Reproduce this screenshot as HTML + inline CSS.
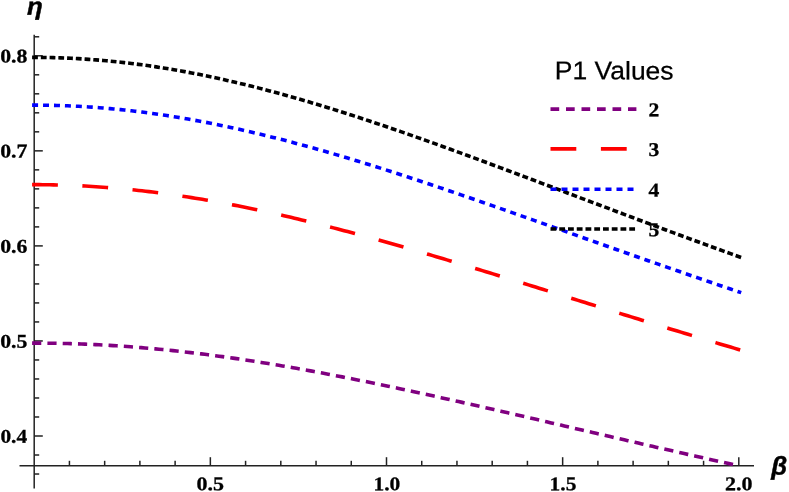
<!DOCTYPE html>
<html><head><meta charset="utf-8"><title>Plot</title>
<style>html,body{margin:0;padding:0;background:#fff;}body{width:789px;height:492px;overflow:hidden;}svg{display:block;will-change:transform;}.t{font-family:"Liberation Serif",serif;font-weight:bold;font-size:19.5px;fill:#000;stroke:#000;stroke-width:0.3px;}.l{font-family:"Liberation Sans",sans-serif;font-size:25.5px;fill:#000;stroke:#000;stroke-width:0.25px;}.g{font-family:"Liberation Sans",sans-serif;font-weight:bold;font-style:italic;font-size:25.6px;fill:#000;stroke:#000;stroke-width:0.45px;}</style></head><body>
<svg width="789" height="492" viewBox="0 0 789 492">
<rect width="789" height="492" fill="#fff"/>
<defs><clipPath id="c"><rect x="0" y="0" width="789" height="466.50"/></clipPath></defs>
<g stroke="#222" stroke-width="1.5" fill="none">
<line x1="19.50" y1="465.80" x2="754.00" y2="465.80"/>
<line x1="34.20" y1="34.70" x2="34.20" y2="488.40"/>
<line x1="69.43" y1="465.80" x2="69.43" y2="460.80"/>
<line x1="104.66" y1="465.80" x2="104.66" y2="460.80"/>
<line x1="139.89" y1="465.80" x2="139.89" y2="460.80"/>
<line x1="175.12" y1="465.80" x2="175.12" y2="460.80"/>
<line x1="210.35" y1="465.80" x2="210.35" y2="457.20"/>
<line x1="245.58" y1="465.80" x2="245.58" y2="460.80"/>
<line x1="280.81" y1="465.80" x2="280.81" y2="460.80"/>
<line x1="316.04" y1="465.80" x2="316.04" y2="460.80"/>
<line x1="351.27" y1="465.80" x2="351.27" y2="460.80"/>
<line x1="386.50" y1="465.80" x2="386.50" y2="457.20"/>
<line x1="421.73" y1="465.80" x2="421.73" y2="460.80"/>
<line x1="456.96" y1="465.80" x2="456.96" y2="460.80"/>
<line x1="492.19" y1="465.80" x2="492.19" y2="460.80"/>
<line x1="527.42" y1="465.80" x2="527.42" y2="460.80"/>
<line x1="562.65" y1="465.80" x2="562.65" y2="457.20"/>
<line x1="597.88" y1="465.80" x2="597.88" y2="460.80"/>
<line x1="633.11" y1="465.80" x2="633.11" y2="460.80"/>
<line x1="668.34" y1="465.80" x2="668.34" y2="460.80"/>
<line x1="703.57" y1="465.80" x2="703.57" y2="460.80"/>
<line x1="738.80" y1="465.80" x2="738.80" y2="457.20"/>
<line x1="34.20" y1="474.02" x2="39.20" y2="474.02"/>
<line x1="34.20" y1="455.01" x2="39.20" y2="455.01"/>
<line x1="34.20" y1="436.00" x2="42.80" y2="436.00"/>
<line x1="34.20" y1="416.99" x2="39.20" y2="416.99"/>
<line x1="34.20" y1="397.98" x2="39.20" y2="397.98"/>
<line x1="34.20" y1="378.97" x2="39.20" y2="378.97"/>
<line x1="34.20" y1="359.96" x2="39.20" y2="359.96"/>
<line x1="34.20" y1="340.95" x2="42.80" y2="340.95"/>
<line x1="34.20" y1="321.94" x2="39.20" y2="321.94"/>
<line x1="34.20" y1="302.93" x2="39.20" y2="302.93"/>
<line x1="34.20" y1="283.92" x2="39.20" y2="283.92"/>
<line x1="34.20" y1="264.91" x2="39.20" y2="264.91"/>
<line x1="34.20" y1="245.90" x2="42.80" y2="245.90"/>
<line x1="34.20" y1="226.89" x2="39.20" y2="226.89"/>
<line x1="34.20" y1="207.88" x2="39.20" y2="207.88"/>
<line x1="34.20" y1="188.87" x2="39.20" y2="188.87"/>
<line x1="34.20" y1="169.86" x2="39.20" y2="169.86"/>
<line x1="34.20" y1="150.85" x2="42.80" y2="150.85"/>
<line x1="34.20" y1="131.84" x2="39.20" y2="131.84"/>
<line x1="34.20" y1="112.83" x2="39.20" y2="112.83"/>
<line x1="34.20" y1="93.82" x2="39.20" y2="93.82"/>
<line x1="34.20" y1="74.81" x2="39.20" y2="74.81"/>
<line x1="34.20" y1="55.80" x2="42.80" y2="55.80"/>
<line x1="34.20" y1="36.79" x2="39.20" y2="36.79"/>
</g>
<text class="t" x="210.35" y="490.20" transform="rotate(0.03 210.35 490.20)" text-anchor="middle" textLength="27.5" lengthAdjust="spacingAndGlyphs">0.5</text>
<text class="t" x="386.85" y="490.20" transform="rotate(0.03 386.85 490.20)" text-anchor="middle" textLength="26.8" lengthAdjust="spacingAndGlyphs">1.0</text>
<text class="t" x="563.00" y="490.20" transform="rotate(0.03 563.00 490.20)" text-anchor="middle" textLength="26.8" lengthAdjust="spacingAndGlyphs">1.5</text>
<text class="t" x="738.80" y="490.20" transform="rotate(0.03 738.80 490.20)" text-anchor="middle" textLength="27.5" lengthAdjust="spacingAndGlyphs">2.0</text>
<text class="t" x="27.10" y="442.75" transform="rotate(0.03 27.10 442.75)" text-anchor="end" textLength="26.7" lengthAdjust="spacingAndGlyphs">0.4</text>
<text class="t" x="27.40" y="347.70" transform="rotate(0.03 27.40 347.70)" text-anchor="end" textLength="27.2" lengthAdjust="spacingAndGlyphs">0.5</text>
<text class="t" x="27.40" y="252.65" transform="rotate(0.03 27.40 252.65)" text-anchor="end" textLength="27.2" lengthAdjust="spacingAndGlyphs">0.6</text>
<text class="t" x="27.40" y="157.60" transform="rotate(0.03 27.40 157.60)" text-anchor="end" textLength="27.2" lengthAdjust="spacingAndGlyphs">0.7</text>
<text class="t" x="27.40" y="62.55" transform="rotate(0.03 27.40 62.55)" text-anchor="end" textLength="27.2" lengthAdjust="spacingAndGlyphs">0.8</text>
<text class="g" x="27.10" y="14.70" transform="rotate(0.03 27.10 14.70)" style="font-size:24.5px" textLength="15.75" lengthAdjust="spacingAndGlyphs">η</text>
<text class="g" x="771.30" y="474.60" transform="rotate(0.03 771.30 474.60)">β</text>
<g fill="none" stroke-linecap="butt" stroke-linejoin="round" clip-path="url(#c)">
<path d="M32.09 343.12 L35.61 343.12 L39.14 343.13 L42.66 343.15 L46.19 343.17 L49.71 343.21 L53.23 343.26 L56.76 343.32 L60.28 343.39 L63.81 343.47 L67.33 343.56 L70.86 343.65 L74.38 343.76 L77.91 343.88 L81.43 344.01 L84.96 344.14 L88.48 344.29 L92.01 344.45 L95.53 344.61 L99.06 344.79 L102.58 344.97 L106.11 345.17 L109.63 345.37 L113.16 345.59 L116.68 345.81 L120.21 346.05 L123.73 346.29 L127.25 346.54 L130.78 346.80 L134.30 347.07 L137.83 347.35 L141.35 347.64 L144.88 347.94 L148.40 348.24 L151.93 348.56 L155.45 348.88 L158.98 349.22 L162.50 349.56 L166.03 349.91 L169.55 350.27 L173.08 350.64 L176.60 351.01 L180.13 351.40 L183.65 351.79 L187.18 352.19 L190.70 352.60 L194.23 353.02 L197.75 353.45 L201.27 353.88 L204.80 354.32 L208.32 354.77 L211.85 355.23 L215.37 355.70 L218.90 356.17 L222.42 356.65 L225.95 357.14 L229.47 357.63 L233.00 358.14 L236.52 358.65 L240.05 359.17 L243.57 359.69 L247.10 360.22 L250.62 360.76 L254.15 361.30 L257.67 361.86 L261.20 362.42 L264.72 362.98 L268.25 363.55 L271.77 364.13 L275.29 364.71 L278.82 365.30 L282.34 365.90 L285.87 366.50 L289.39 367.11 L292.92 367.73 L296.44 368.35 L299.97 368.97 L303.49 369.60 L307.02 370.24 L310.54 370.88 L314.07 371.53 L317.59 372.18 L321.12 372.84 L324.64 373.50 L328.17 374.17 L331.69 374.84 L335.22 375.52 L338.74 376.20 L342.27 376.89 L345.79 377.58 L349.31 378.28 L352.84 378.98 L356.36 379.68 L359.89 380.39 L363.41 381.10 L366.94 381.82 L370.46 382.54 L373.99 383.27 L377.51 383.99 L381.04 384.73 L384.56 385.46 L388.09 386.20 L391.61 386.94 L395.14 387.69 L398.66 388.44 L402.19 389.19 L405.71 389.94 L409.24 390.70 L412.76 391.46 L416.29 392.23 L419.81 392.99 L423.33 393.76 L426.86 394.54 L430.38 395.31 L433.91 396.09 L437.43 396.87 L440.96 397.65 L444.48 398.43 L448.01 399.22 L451.53 400.00 L455.06 400.79 L458.58 401.59 L462.11 402.38 L465.63 403.18 L469.16 403.97 L472.68 404.77 L476.21 405.57 L479.73 406.37 L483.26 407.18 L486.78 407.98 L490.31 408.79 L493.83 409.60 L497.35 410.40 L500.88 411.21 L504.40 412.02 L507.93 412.84 L511.45 413.65 L514.98 414.46 L518.50 415.28 L522.03 416.09 L525.55 416.91 L529.08 417.73 L532.60 418.54 L536.13 419.36 L539.65 420.18 L543.18 421.00 L546.70 421.82 L550.23 422.64 L553.75 423.46 L557.28 424.27 L560.80 425.10 L564.33 425.92 L567.85 426.74 L571.37 427.56 L574.90 428.38 L578.42 429.20 L581.95 430.02 L585.47 430.84 L589.00 431.66 L592.52 432.48 L596.05 433.30 L599.57 434.11 L603.10 434.93 L606.62 435.75 L610.15 436.57 L613.67 437.39 L617.20 438.20 L620.72 439.02 L624.25 439.83 L627.77 440.65 L631.30 441.46 L634.82 442.28 L638.35 443.09 L641.87 443.90 L645.39 444.71 L648.92 445.52 L652.44 446.33 L655.97 447.14 L659.49 447.95 L663.02 448.76 L666.54 449.56 L670.07 450.37 L673.59 451.17 L677.12 451.97 L680.64 452.78 L684.17 453.58 L687.69 454.37 L691.22 455.17 L694.74 455.97 L698.27 456.77 L701.79 457.56 L705.32 458.35 L708.84 459.14 L712.37 459.93 L715.89 460.72 L719.41 461.51 L722.94 462.30 L726.46 463.08 L729.99 463.87 L733.51 464.65 L737.04 465.43" stroke="#800080" stroke-width="3.6" stroke-dasharray="9.2 6.1" stroke-dashoffset="0"/>
<path d="M32.09 184.66 L35.63 184.66 L39.18 184.67 L42.72 184.70 L46.27 184.74 L49.81 184.79 L53.36 184.86 L56.91 184.94 L60.45 185.03 L64.00 185.14 L67.54 185.26 L71.09 185.39 L74.63 185.54 L78.18 185.70 L81.72 185.87 L85.27 186.06 L88.81 186.26 L92.36 186.47 L95.91 186.70 L99.45 186.94 L103.00 187.20 L106.54 187.46 L110.09 187.74 L113.63 188.03 L117.18 188.34 L120.72 188.66 L124.27 188.99 L127.82 189.33 L131.36 189.69 L134.91 190.05 L138.45 190.44 L142.00 190.83 L145.54 191.24 L149.09 191.65 L152.63 192.08 L156.18 192.53 L159.73 192.98 L163.27 193.45 L166.82 193.93 L170.36 194.42 L173.91 194.92 L177.45 195.43 L181.00 195.96 L184.54 196.49 L188.09 197.04 L191.64 197.60 L195.18 198.17 L198.73 198.75 L202.27 199.34 L205.82 199.94 L209.36 200.56 L212.91 201.18 L216.45 201.82 L220.00 202.46 L223.55 203.11 L227.09 203.78 L230.64 204.45 L234.18 205.14 L237.73 205.83 L241.27 206.54 L244.82 207.25 L248.36 207.98 L251.91 208.71 L255.46 209.45 L259.00 210.20 L262.55 210.96 L266.09 211.73 L269.64 212.51 L273.18 213.30 L276.73 214.09 L280.27 214.90 L283.82 215.71 L287.37 216.53 L290.91 217.35 L294.46 218.19 L298.00 219.03 L301.55 219.88 L305.09 220.74 L308.64 221.61 L312.18 222.48 L315.73 223.36 L319.28 224.25 L322.82 225.14 L326.37 226.04 L329.91 226.95 L333.46 227.87 L337.00 228.79 L340.55 229.71 L344.09 230.65 L347.64 231.59 L351.19 232.53 L354.73 233.48 L358.28 234.44 L361.82 235.40 L365.37 236.37 L368.91 237.34 L372.46 238.32 L376.00 239.30 L379.55 240.29 L383.10 241.28 L386.64 242.28 L390.19 243.28 L393.73 244.29 L397.28 245.30 L400.82 246.32 L404.37 247.34 L407.91 248.36 L411.46 249.39 L415.01 250.42 L418.55 251.46 L422.10 252.50 L425.64 253.54 L429.19 254.59 L432.73 255.63 L436.28 256.69 L439.82 257.74 L443.37 258.80 L446.92 259.86 L450.46 260.93 L454.01 261.99 L457.55 263.06 L461.10 264.14 L464.64 265.21 L468.19 266.29 L471.73 267.37 L475.28 268.45 L478.83 269.53 L482.37 270.62 L485.92 271.70 L489.46 272.79 L493.01 273.88 L496.55 274.98 L500.10 276.07 L503.64 277.16 L507.19 278.26 L510.74 279.36 L514.28 280.46 L517.83 281.56 L521.37 282.66 L524.92 283.76 L528.46 284.86 L532.01 285.97 L535.55 287.07 L539.10 288.17 L542.64 289.28 L546.19 290.39 L549.74 291.49 L553.28 292.60 L556.83 293.71 L560.37 294.81 L563.92 295.92 L567.46 297.03 L571.01 298.13 L574.55 299.24 L578.10 300.35 L581.65 301.46 L585.19 302.56 L588.74 303.67 L592.28 304.77 L595.83 305.88 L599.37 306.98 L602.92 308.09 L606.46 309.19 L610.01 310.30 L613.56 311.40 L617.10 312.50 L620.65 313.60 L624.19 314.70 L627.74 315.80 L631.28 316.90 L634.83 318.00 L638.37 319.09 L641.92 320.19 L645.47 321.28 L649.01 322.38 L652.56 323.47 L656.10 324.56 L659.65 325.65 L663.19 326.73 L666.74 327.82 L670.28 328.91 L673.83 329.99 L677.38 331.07 L680.92 332.15 L684.47 333.23 L688.01 334.31 L691.56 335.38 L695.10 336.46 L698.65 337.53 L702.19 338.60 L705.74 339.67 L709.29 340.73 L712.83 341.80 L716.38 342.86 L719.92 343.92 L723.47 344.98 L727.01 346.04 L730.56 347.09 L734.10 348.15 L737.65 349.20 L741.20 350.25" stroke="#ff0000" stroke-width="3.6" stroke-dasharray="25.8 24.5" stroke-dashoffset="0"/>
<path d="M32.09 105.13 L35.63 105.13 L39.18 105.15 L42.72 105.18 L46.27 105.22 L49.81 105.28 L53.36 105.35 L56.91 105.44 L60.45 105.55 L64.00 105.67 L67.54 105.80 L71.09 105.95 L74.63 106.12 L78.18 106.30 L81.72 106.50 L85.27 106.71 L88.81 106.93 L92.36 107.17 L95.91 107.43 L99.45 107.70 L103.00 107.98 L106.54 108.28 L110.09 108.60 L113.63 108.93 L117.18 109.27 L120.72 109.63 L124.27 110.00 L127.82 110.39 L131.36 110.79 L134.91 111.20 L138.45 111.63 L142.00 112.08 L145.54 112.53 L149.09 113.00 L152.63 113.49 L156.18 113.99 L159.73 114.50 L163.27 115.02 L166.82 115.56 L170.36 116.11 L173.91 116.68 L177.45 117.26 L181.00 117.85 L184.54 118.45 L188.09 119.07 L191.64 119.70 L195.18 120.34 L198.73 120.99 L202.27 121.66 L205.82 122.34 L209.36 123.03 L212.91 123.73 L216.45 124.45 L220.00 125.17 L223.55 125.91 L227.09 126.66 L230.64 127.42 L234.18 128.20 L237.73 128.98 L241.27 129.77 L244.82 130.58 L248.36 131.39 L251.91 132.22 L255.46 133.06 L259.00 133.90 L262.55 134.76 L266.09 135.63 L269.64 136.51 L273.18 137.39 L276.73 138.29 L280.27 139.20 L283.82 140.11 L287.37 141.04 L290.91 141.97 L294.46 142.91 L298.00 143.87 L301.55 144.83 L305.09 145.79 L308.64 146.77 L312.18 147.76 L315.73 148.75 L319.28 149.75 L322.82 150.76 L326.37 151.78 L329.91 152.81 L333.46 153.84 L337.00 154.88 L340.55 155.92 L344.09 156.98 L347.64 158.04 L351.19 159.11 L354.73 160.18 L358.28 161.26 L361.82 162.35 L365.37 163.44 L368.91 164.54 L372.46 165.65 L376.00 166.76 L379.55 167.88 L383.10 169.00 L386.64 170.13 L390.19 171.26 L393.73 172.40 L397.28 173.54 L400.82 174.69 L404.37 175.85 L407.91 177.00 L411.46 178.17 L415.01 179.33 L418.55 180.51 L422.10 181.68 L425.64 182.86 L429.19 184.04 L432.73 185.23 L436.28 186.42 L439.82 187.62 L443.37 188.82 L446.92 190.02 L450.46 191.22 L454.01 192.43 L457.55 193.64 L461.10 194.86 L464.64 196.07 L468.19 197.29 L471.73 198.52 L475.28 199.74 L478.83 200.97 L482.37 202.20 L485.92 203.43 L489.46 204.66 L493.01 205.90 L496.55 207.14 L500.10 208.38 L503.64 209.62 L507.19 210.86 L510.74 212.10 L514.28 213.35 L517.83 214.60 L521.37 215.84 L524.92 217.09 L528.46 218.34 L532.01 219.60 L535.55 220.85 L539.10 222.10 L542.64 223.35 L546.19 224.61 L549.74 225.86 L553.28 227.12 L556.83 228.38 L560.37 229.63 L563.92 230.89 L567.46 232.14 L571.01 233.40 L574.55 234.66 L578.10 235.91 L581.65 237.17 L585.19 238.43 L588.74 239.68 L592.28 240.94 L595.83 242.19 L599.37 243.45 L602.92 244.70 L606.46 245.96 L610.01 247.21 L613.56 248.46 L617.10 249.71 L620.65 250.96 L624.19 252.21 L627.74 253.46 L631.28 254.71 L634.83 255.96 L638.37 257.20 L641.92 258.45 L645.47 259.69 L649.01 260.93 L652.56 262.17 L656.10 263.41 L659.65 264.65 L663.19 265.89 L666.74 267.12 L670.28 268.35 L673.83 269.59 L677.38 270.82 L680.92 272.04 L684.47 273.27 L688.01 274.49 L691.56 275.72 L695.10 276.94 L698.65 278.16 L702.19 279.37 L705.74 280.59 L709.29 281.80 L712.83 283.01 L716.38 284.22 L719.92 285.43 L723.47 286.64 L727.01 287.84 L730.56 289.04 L734.10 290.24 L737.65 291.43 L741.20 292.63" stroke="#0000ff" stroke-width="3.6" stroke-dasharray="6.0 4.945" stroke-dashoffset="0"/>
<path d="M32.09 57.42 L35.63 57.42 L39.18 57.43 L42.72 57.46 L46.27 57.51 L49.81 57.57 L53.36 57.65 L56.91 57.75 L60.45 57.86 L64.00 57.99 L67.54 58.13 L71.09 58.30 L74.63 58.47 L78.18 58.66 L81.72 58.87 L85.27 59.10 L88.81 59.34 L92.36 59.60 L95.91 59.87 L99.45 60.16 L103.00 60.46 L106.54 60.78 L110.09 61.12 L113.63 61.47 L117.18 61.83 L120.72 62.22 L124.27 62.61 L127.82 63.03 L131.36 63.45 L134.91 63.90 L138.45 64.35 L142.00 64.83 L145.54 65.31 L149.09 65.82 L152.63 66.33 L156.18 66.86 L159.73 67.41 L163.27 67.97 L166.82 68.55 L170.36 69.13 L173.91 69.74 L177.45 70.35 L181.00 70.99 L184.54 71.63 L188.09 72.29 L191.64 72.96 L195.18 73.64 L198.73 74.34 L202.27 75.05 L205.82 75.78 L209.36 76.52 L212.91 77.27 L216.45 78.03 L220.00 78.80 L223.55 79.59 L227.09 80.39 L230.64 81.20 L234.18 82.03 L237.73 82.86 L241.27 83.71 L244.82 84.57 L248.36 85.44 L251.91 86.32 L255.46 87.22 L259.00 88.12 L262.55 89.03 L266.09 89.96 L269.64 90.90 L273.18 91.84 L276.73 92.80 L280.27 93.77 L283.82 94.74 L287.37 95.73 L290.91 96.73 L294.46 97.73 L298.00 98.75 L301.55 99.77 L305.09 100.81 L308.64 101.85 L312.18 102.90 L315.73 103.96 L319.28 105.03 L322.82 106.11 L326.37 107.20 L329.91 108.29 L333.46 109.39 L337.00 110.50 L340.55 111.62 L344.09 112.74 L347.64 113.87 L351.19 115.01 L354.73 116.16 L358.28 117.31 L361.82 118.47 L365.37 119.64 L368.91 120.81 L372.46 121.99 L376.00 123.18 L379.55 124.37 L383.10 125.57 L386.64 126.77 L390.19 127.98 L393.73 129.20 L397.28 130.42 L400.82 131.64 L404.37 132.88 L407.91 134.11 L411.46 135.35 L415.01 136.60 L418.55 137.85 L422.10 139.10 L425.64 140.36 L429.19 141.62 L432.73 142.89 L436.28 144.16 L439.82 145.44 L443.37 146.72 L446.92 148.00 L450.46 149.29 L454.01 150.57 L457.55 151.87 L461.10 153.16 L464.64 154.46 L468.19 155.76 L471.73 157.07 L475.28 158.37 L478.83 159.68 L482.37 161.00 L485.92 162.31 L489.46 163.63 L493.01 164.95 L496.55 166.27 L500.10 167.59 L503.64 168.91 L507.19 170.24 L510.74 171.57 L514.28 172.90 L517.83 174.23 L521.37 175.56 L524.92 176.89 L528.46 178.23 L532.01 179.56 L535.55 180.90 L539.10 182.24 L542.64 183.57 L546.19 184.91 L549.74 186.25 L553.28 187.59 L556.83 188.93 L560.37 190.27 L563.92 191.61 L567.46 192.95 L571.01 194.29 L574.55 195.63 L578.10 196.98 L581.65 198.32 L585.19 199.66 L588.74 201.00 L592.28 202.34 L595.83 203.68 L599.37 205.02 L602.92 206.35 L606.46 207.69 L610.01 209.03 L613.56 210.36 L617.10 211.70 L620.65 213.03 L624.19 214.37 L627.74 215.70 L631.28 217.03 L634.83 218.36 L638.37 219.69 L641.92 221.02 L645.47 222.35 L649.01 223.67 L652.56 225.00 L656.10 226.32 L659.65 227.64 L663.19 228.96 L666.74 230.28 L670.28 231.59 L673.83 232.91 L677.38 234.22 L680.92 235.53 L684.47 236.84 L688.01 238.14 L691.56 239.45 L695.10 240.75 L698.65 242.05 L702.19 243.35 L705.74 244.65 L709.29 245.94 L712.83 247.24 L716.38 248.53 L719.92 249.81 L723.47 251.10 L727.01 252.38 L730.56 253.66 L734.10 254.94 L737.65 256.22 L741.20 257.49" stroke="#000000" stroke-width="3.6" stroke-dasharray="5.8 2.95" stroke-dashoffset="0"/>
</g>
<text class="l" x="554.80" y="79.35" transform="rotate(0.03 554.80 79.35)" textLength="118.8" lengthAdjust="spacingAndGlyphs">P1 Values</text>
<line x1="550.50" y1="109.10" x2="636.40" y2="109.10" stroke="#800080" stroke-width="3.6" stroke-dasharray="8.7 6.8" stroke-dashoffset="0"/>
<text class="t" x="648.50" y="116.30" transform="rotate(0.03 648.50 116.30)" textLength="10.8" lengthAdjust="spacingAndGlyphs">2</text>
<line x1="550.50" y1="148.90" x2="636.40" y2="148.90" stroke="#ff0000" stroke-width="3.6" stroke-dasharray="25.8 24.6" stroke-dashoffset="0"/>
<text class="t" x="648.50" y="156.10" transform="rotate(0.03 648.50 156.10)" textLength="10.8" lengthAdjust="spacingAndGlyphs">3</text>
<line x1="550.50" y1="189.25" x2="636.40" y2="189.25" stroke="#0000ff" stroke-width="3.6" stroke-dasharray="6 5" stroke-dashoffset="0"/>
<text class="t" x="648.50" y="196.45" transform="rotate(0.03 648.50 196.45)" textLength="10.8" lengthAdjust="spacingAndGlyphs">4</text>
<line x1="550.50" y1="229.00" x2="636.40" y2="229.00" stroke="#000000" stroke-width="3.6" stroke-dasharray="5.8 2.95" stroke-dashoffset="0"/>
<text class="t" x="648.50" y="236.20" transform="rotate(0.03 648.50 236.20)" textLength="10.8" lengthAdjust="spacingAndGlyphs">5</text>
</svg></body></html>
